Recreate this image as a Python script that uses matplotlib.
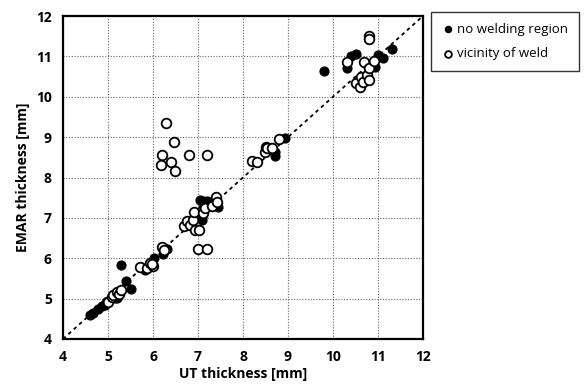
import matplotlib
matplotlib.use("Agg")
import matplotlib.pyplot as plt

plt.rcParams['font.family'] = ['Open Sans', 'DejaVu Sans']

# no welding region (filled)
nw_x = [4.60, 4.67, 4.78, 4.86, 4.93, 5.16, 5.19, 5.40, 5.50, 5.29, 5.82, 6.03, 6.30, 6.23,
        7.04, 7.12, 7.20, 7.28, 7.45, 7.08, 7.08, 8.71, 8.71, 8.93,
        9.81, 10.30, 10.41, 10.51, 10.93, 11.00, 11.12, 11.30]
nw_y = [4.59, 4.64, 4.75, 4.82, 4.84, 5.01, 5.01, 5.44, 5.25, 5.83, 5.72, 6.00, 6.22, 6.10,
        7.44, 7.42, 7.42, 7.40, 7.27, 7.03, 6.95, 8.64, 8.53, 8.97,
        10.63, 10.72, 11.00, 11.05, 10.74, 11.03, 10.97, 11.18]

# vicinity of weld (open)
vw_x = [4.97, 5.00, 5.08, 5.12, 5.19, 5.25, 5.29, 5.70, 5.86, 5.93, 6.00, 5.97, 6.21, 6.25,
        6.69, 6.75, 6.82, 6.88, 6.90, 7.10, 7.12, 7.16, 7.30, 7.40, 7.42,
        6.93, 7.02, 7.00, 7.19,
        6.28, 6.47, 6.20, 6.18, 6.40, 6.49, 6.79, 7.19,
        8.19, 8.30, 8.49, 8.51, 8.53, 8.64, 8.81,
        10.30, 10.51, 10.60, 10.62, 10.67, 10.70, 10.75, 10.80, 10.81, 10.90, 10.80, 10.80]
vw_y = [4.91, 4.92, 5.05, 5.09, 5.17, 5.11, 5.21, 5.79, 5.77, 5.89, 5.81, 5.86, 6.28, 6.20,
        6.80, 6.92, 6.82, 6.95, 7.15, 7.22, 7.11, 7.25, 7.30, 7.52, 7.40,
        6.69, 6.69, 6.23, 6.23,
        9.35, 8.87, 8.56, 8.32, 8.39, 8.17, 8.55, 8.55,
        8.41, 8.39, 8.64, 8.76, 8.72, 8.72, 8.95,
        10.85, 10.33, 10.25, 10.48, 10.37, 10.85, 10.55, 10.70, 10.41, 10.88, 11.50, 11.42]

fig = plt.figure(figsize=(5.87, 3.92), dpi=100)
ax = fig.add_axes([63/587, 1-339/392, (423-63)/587, (339-16)/392])

ax.set_xlim(4, 12)
ax.set_ylim(4, 12)
ax.set_xticks(range(4, 13))
ax.set_yticks(range(4, 13))
ax.grid(True, color='#666666', linestyle=(0, (1, 1.5)), linewidth=0.8)
ax.set_axisbelow(True)
ax.tick_params(length=0, labelsize=10, pad=8)
for lab in ax.get_xticklabels() + ax.get_yticklabels():
    lab.set_fontweight('bold')
for sp in ax.spines.values():
    sp.set_linewidth(1.6)
    sp.set_color('black')

ax.plot([4, 12], [4, 12], color='black', linestyle=(0, (2, 2)), linewidth=1.3, zorder=2)

ax.scatter(nw_x, nw_y, s=40, facecolor='black', edgecolor='black', linewidth=1.0, zorder=3,
           label='no welding region')
ax.scatter(vw_x, vw_y, s=48, facecolor='white', edgecolor='black', linewidth=1.3, zorder=4,
           label='vicinity of weld')

ax.set_xlabel('UT thickness [mm]', fontsize=10, fontweight='bold', labelpad=2)
ax.set_ylabel('EMAR thickness [mm]', fontsize=10, fontweight='bold', labelpad=4)

leg = fig.legend(loc='upper left', bbox_to_anchor=(431/587, 1-12/392), frameon=True,
                 fancybox=False, edgecolor='black', fontsize=9.5, handletextpad=0.2,
                 handlelength=1.0, borderpad=0.8, borderaxespad=0, labelspacing=0.9,
                 markerscale=0.7)
leg.get_frame().set_linewidth(1.0)

fig.savefig('out.png', dpi=100)
